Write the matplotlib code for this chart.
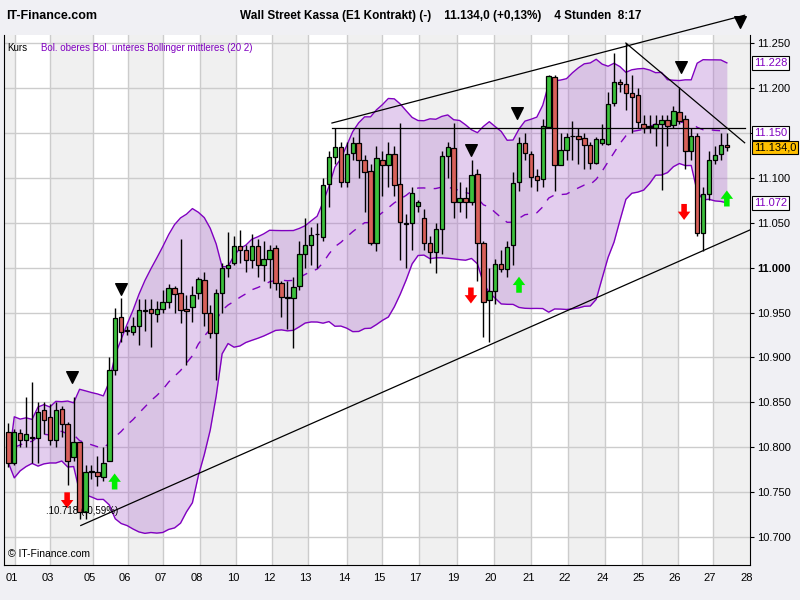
import matplotlib
matplotlib.use("Agg")
import matplotlib.pyplot as plt
import numpy as np
import pandas as pd
plt.rcParams['font.family'] = ['Liberation Sans', 'DejaVu Sans']

# OHLC (4h candles)
opens = [10.817,10.783,10.816,10.808,10.812,10.810,10.841,10.834,10.808,10.843,10.826,10.789,10.806,10.728,10.773,10.773,10.767,10.785,10.886,10.945,
         10.930,10.928,10.935,10.952,10.954,10.948,10.954,10.962,10.977,10.972,10.954,10.956,10.972,10.986,10.949,10.927,10.972,11.000,11.005,11.024,
         11.020,11.008,11.024,11.003,11.010,11.022,10.983,10.966,10.966,10.980,11.015,11.025,11.037,11.034,11.093,11.123,11.134,11.095,11.128,11.139,
         11.120,11.108,11.028,11.120,11.114,11.127,11.093,11.049,11.050,11.069,11.055,11.027,11.017,11.043,11.124,11.133,11.073,11.078,11.073,11.104,
         11.028,10.964,10.974,11.004,10.999,11.025,11.095,11.139,11.127,11.102,11.099,11.157,11.212,11.114,11.131,11.146,11.147,11.144,11.137,11.116,
         11.139,11.138,11.183,11.207,11.204,11.194,11.192,11.160,11.157,11.156,11.160,11.164,11.159,11.173,11.165,11.130,11.147,11.039,11.082,11.120,
         11.126,11.136]
highs = [10.827,10.820,10.820,10.856,10.873,10.850,10.850,10.848,10.850,10.846,10.828,10.856,10.806,10.780,10.780,10.790,10.800,10.900,10.955,10.966,
         10.935,10.945,10.965,10.965,10.965,10.963,10.975,10.982,10.980,11.032,10.970,10.980,10.990,10.995,10.958,10.976,11.005,11.040,11.035,11.042,
         11.025,11.037,11.032,11.030,11.025,11.025,10.985,10.985,10.990,11.030,11.055,11.045,11.050,11.100,11.130,11.155,11.140,11.140,11.145,11.155,
         11.125,11.115,11.135,11.130,11.140,11.135,11.161,11.060,11.090,11.075,11.065,11.035,11.050,11.130,11.140,11.161,11.095,11.090,11.120,11.110,
         11.030,11.000,11.010,11.020,11.030,11.106,11.145,11.150,11.130,11.110,11.165,11.215,11.215,11.150,11.150,11.163,11.155,11.150,11.140,11.145,
         11.160,11.195,11.239,11.210,11.250,11.215,11.200,11.170,11.170,11.170,11.170,11.170,11.180,11.201,11.170,11.155,11.150,11.090,11.130,11.135,
         11.150,11.150]
lows = [10.778,10.780,10.800,10.800,10.783,10.783,10.815,10.803,10.800,10.812,10.758,10.785,10.720,10.720,10.765,10.757,10.762,10.785,10.880,10.917,
        10.925,10.925,10.914,10.930,10.912,10.940,10.950,10.955,10.950,10.938,10.892,10.940,10.965,10.935,10.922,10.875,10.950,10.990,11.003,11.005,
        10.995,11.000,10.990,10.985,10.977,10.975,10.945,10.932,10.911,10.975,11.000,11.003,11.000,11.030,11.067,11.115,11.090,11.090,11.120,11.100,
        11.062,11.025,11.018,11.080,11.090,11.080,11.008,11.000,11.020,11.062,11.020,11.005,10.994,11.015,11.100,11.055,11.062,11.055,11.070,10.985,
        10.923,10.917,10.960,10.995,10.990,11.003,11.085,11.120,11.090,11.085,11.090,11.155,11.085,11.120,11.120,11.120,11.115,11.110,11.110,11.115,
        11.137,11.137,11.180,11.195,11.175,11.150,11.155,11.150,11.150,11.135,11.086,11.135,11.155,11.160,11.110,11.120,11.035,11.019,11.075,11.115,
        11.120,11.130]
closes = [10.783,10.817,10.808,10.815,10.810,10.839,10.830,10.808,10.842,10.826,10.785,10.806,10.728,10.773,10.773,10.768,10.783,10.886,10.944,10.928,
          10.930,10.935,10.953,10.952,10.949,10.954,10.962,10.977,10.971,10.953,10.952,10.970,10.987,10.949,10.927,10.972,11.000,11.003,11.024,11.020,
          11.008,11.024,11.003,11.010,11.020,10.983,10.967,10.966,10.978,11.015,11.025,11.036,11.037,11.092,11.123,11.134,11.095,11.127,11.139,11.120,
          11.107,11.028,11.122,11.114,11.126,11.092,11.051,11.049,11.083,11.073,11.027,11.017,11.043,11.124,11.134,11.073,11.078,11.073,11.103,11.028,
          10.962,10.974,11.004,10.999,11.023,11.094,11.139,11.128,11.101,11.098,11.158,11.213,11.114,11.131,11.145,11.146,11.143,11.136,11.116,11.143,
          11.143,11.182,11.207,11.204,11.194,11.190,11.162,11.155,11.157,11.160,11.164,11.158,11.174,11.163,11.130,11.147,11.039,11.082,11.120,11.125,
          11.136,11.134]

day_labels = ["01","03","05","06","07","08","10","12","13","14","15","17","19","20","21","22","24","25","26","27","28"]
day_bounds = [-0.73,1.14,7.07,14.2,20.1,26.1,32.3,38.3,44.4,50.5,57.1,63.0,69.1,75.5,81.8,88.1,94.2,100.5,106.7,112.7,118.6,124.9]
yticks = [10.70,10.75,10.80,10.85,10.90,10.95,11.00,11.05,11.10,11.15,11.20,11.25]

# signals
tri_x = [10.8,18.9,77.9,85.7,113.2,123.2]; tri_y = [10.878,10.976,11.131,11.172,11.223,11.273]
red_x = [9.9,77.9,113.8]; red_y = [10.741,10.969,11.062]
grn_x = [17.9,86.0,121.0]; grn_y = [10.762,10.981,11.077]
# trend lines (idx, price)
tlines = [((54.5,11.161),(124.0,11.281)), ((54.5,11.156),(124.0,11.156)),
          ((12.2,10.713),(124.9,11.042)), ((104.0,11.250),(124.0,11.139))]

o=np.array(opens); h=np.array(highs); l=np.array(lows); c=np.array(closes)
n=len(c); x=np.arange(n)
s=pd.Series(c)
mid=s.rolling(20,min_periods=1).mean().values
sd=s.rolling(20,min_periods=1).std(ddof=0).fillna(0).values
up=mid+2*sd; lo=mid-2*sd

fig=plt.figure(figsize=(8,6),dpi=100,facecolor="#f0f0f4")
ax=fig.add_axes([0.005,0.0583,0.9325,0.8834])
ax.set_facecolor("white")
ax.set_xlim(-0.73,124.9); ax.set_ylim(10.669,11.259)
for i in range(len(day_bounds)-1):
    if i%2==0:
        ax.axvspan(day_bounds[i],day_bounds[i+1],color="#f0f0f0",zorder=0,lw=0)
for b in day_bounds[1:-1]:
    ax.axvline(b,color="#cccccc",lw=1,zorder=0.5)
for t in yticks:
    ax.axhline(t,color="#cccccc",lw=1,zorder=0.5)

ax.fill_between(x,lo,up,color="#b070d0",alpha=0.35,lw=0,zorder=1)
ax.plot(x,up,color="#8000c0",lw=1,zorder=2)
ax.plot(x,lo,color="#8000c0",lw=1,zorder=2)
ax.plot(x,mid,color="#8000c0",lw=1,ls=(0,(6,6)),zorder=2)

col=np.where(c>=o,"#3cc03c","#d8605a")
bot=np.minimum(o,c); ht=np.maximum(np.abs(c-o),0.0008)
ax.vlines(x,l,h,color="black",lw=1,zorder=3)
ax.bar(x,ht,bottom=bot,width=0.75,color=col,edgecolor="black",lw=0.9,zorder=4)

for (a,b) in tlines:
    ax.plot([a[0],b[0]],[a[1],b[1]],color="black",lw=0.9,zorder=5,clip_on=False)
ax.scatter(tri_x,tri_y,marker="v",s=70,color="black",zorder=6,clip_on=False)
for xx,yy in zip(red_x,red_y):
    ax.annotate("",xy=(xx,yy-0.012),xytext=(xx,yy+0.012),
                arrowprops=dict(arrowstyle="simple,head_width=0.9,head_length=0.6,tail_width=0.4",color="red",lw=0),zorder=6)
for xx,yy in zip(grn_x,grn_y):
    ax.annotate("",xy=(xx,yy+0.012),xytext=(xx,yy-0.012),
                arrowprops=dict(arrowstyle="simple,head_width=0.9,head_length=0.6,tail_width=0.4",color="#00ee00",lw=0),zorder=6)
ax.text(6.4,10.726,".10.718 (-0,59%)",fontsize=7,zorder=7)

ax.yaxis.tick_right()
ax.set_yticks(yticks)
ax.set_yticklabels([("%.3f"%t) for t in yticks],fontsize=8)
for lab in ax.get_yticklabels():
    if lab.get_text()=="11.000": lab.set_fontweight("bold")
ax.set_xticks([b-0.5 for b in day_bounds[1:]])
ax.set_xticklabels(day_labels,fontsize=8)
ax.tick_params(axis="x",length=0,pad=6)
ax.tick_params(axis="y",length=3,direction="out",pad=2)
ax.spines["top"].set_visible(False)

ax.text(0.005,0.985,"Kurs",transform=ax.transAxes,fontsize=7,va="top")
ax.text(0.05,0.985,"Bol. oberes Bol. unteres Bollinger mittleres (20 2)",transform=ax.transAxes,fontsize=7,va="top",color="#8000c0")
ax.text(0.005,0.012,"© IT-Finance.com",transform=ax.transAxes,fontsize=7.5,va="bottom")

def box(v,txt,fc,tc):
    ax.text(1.005,(v-10.669)/(11.259-10.669),txt,transform=ax.transAxes,fontsize=8,color=tc,va="center",
            bbox=dict(boxstyle="square,pad=0.15",fc=fc,ec="black",lw=0.8))
box(mid[-1],"%.3f"%mid[-1],"white","#8000c0")
box(up[-1],"%.3f"%up[-1],"white","#8000c0")
box(lo[-1],"%.3f"%lo[-1],"white","#8000c0")
box(c[-1],"11.134,0","#ffc000","black")

fig.text(0.008,0.983,"IT-Finance.com",fontsize=9,fontweight="bold",va="top")
fig.text(0.30,0.983,"Wall Street Kassa (E1 Kontrakt) (-)    11.134,0 (+0,13%)    4 Stunden  8:17",fontsize=8.5,fontweight="bold",va="top")
fig.savefig("out.png",dpi=100,facecolor=fig.get_facecolor())
